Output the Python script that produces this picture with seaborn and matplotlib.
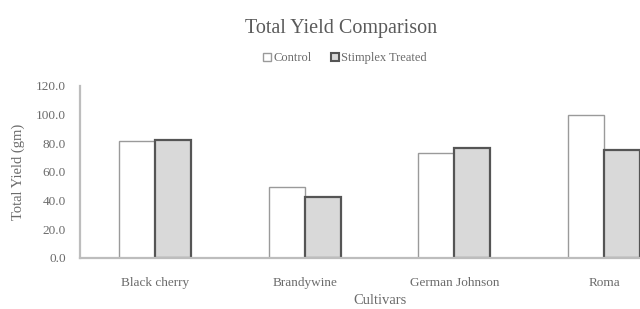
import numpy as np
import pandas as pd
import matplotlib
matplotlib.use("Agg")
import matplotlib.pyplot as plt
import seaborn as sns
from matplotlib.patches import Patch

# values
cultivars = ["Black cherry", "Brandywine", "German Johnson", "Roma"]
control = [81.4, 49.5, 73.5, 99.6]
treated = [82.6, 42.3, 76.8, 75.4]
groups = ["Control", "Stimplex Treated"]

df = pd.DataFrame({
    "Cultivar": cultivars * 2,
    "Yield": control + treated,
    "Group": [groups[0]] * 4 + [groups[1]] * 4,
})

sns.set_style("white")
plt.rcParams["font.family"] = ["Liberation Serif", "DejaVu Serif"]
text_col = "#6b6b6b"

fig = plt.figure(figsize=(6.4, 3.09), dpi=100)
ax = fig.add_axes([80 / 640, 51 / 309, 599 / 640, 172 / 309])

sns.barplot(data=df, x="Cultivar", y="Yield", hue="Group", hue_order=groups,
            palette=["white", "#d9d9d9"], width=0.48, gap=0, ax=ax, legend=False)

edge_cols = ["#9a9a9a", "#555555"]
edge_lw = [1.0, 1.6]
for cont, ec, lw in zip(ax.containers, edge_cols, edge_lw):
    for bar in cont:
        bar.set_edgecolor(ec)
        bar.set_linewidth(lw)

ax.set_xlim(-0.5, 3.5)
ax.set_ylim(0, 120)
ax.set_yticks(np.arange(0, 121, 20))
ax.set_yticklabels([f"{v:.1f}" for v in np.arange(0, 121, 20)])
ax.tick_params(axis="both", length=0, labelsize=9.5, colors=text_col)
ax.tick_params(axis="x", pad=14)
ax.tick_params(axis="y", pad=10)

sns.despine(ax=ax)
for s in ["left", "bottom"]:
    ax.spines[s].set_color("#bdbdbd")
    ax.spines[s].set_linewidth(1.6)

ax.set_xlabel("Cultivars", fontsize=10.5, color=text_col, labelpad=3)
ax.set_ylabel("Total Yield (gm)", fontsize=10.5, color=text_col, labelpad=8)

fig.text(341 / 640, 1 - 28 / 309, "Total Yield Comparison", ha="center", va="center",
         fontsize=14.5, color="#5a5a5a")

handles = [Patch(facecolor="white", edgecolor=edge_cols[0], linewidth=1.0),
           Patch(facecolor="#d9d9d9", edgecolor=edge_cols[1], linewidth=1.5)]
fig.legend(handles, groups, loc="center", bbox_to_anchor=(345 / 640, 1 - 58 / 309),
           ncol=2, frameon=False, fontsize=9, labelcolor=text_col,
           handlelength=0.6, handleheight=0.6, handletextpad=0.2, columnspacing=1.6)

fig.savefig("out.png", dpi=100)
